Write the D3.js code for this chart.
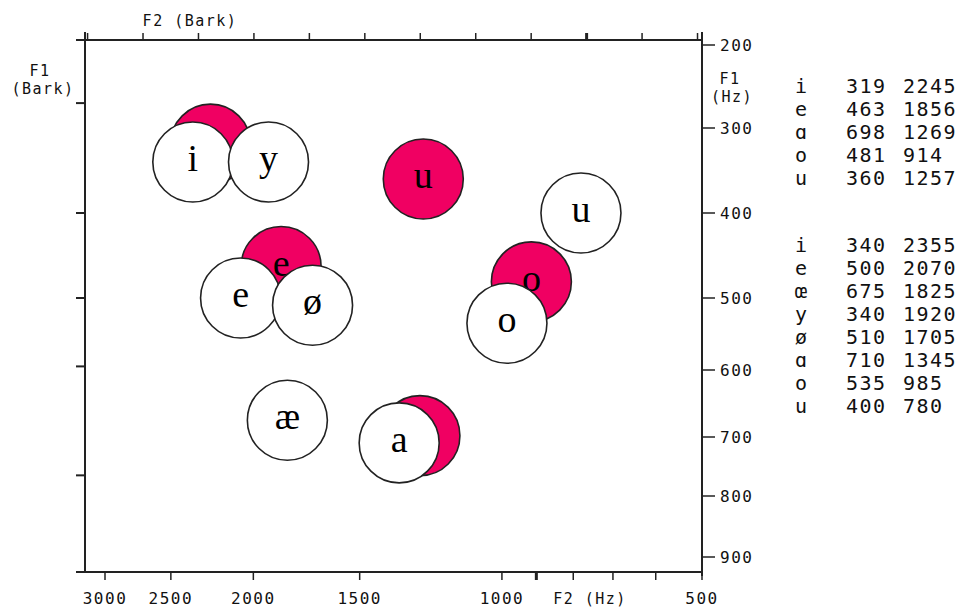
<!DOCTYPE html>
<html>
<head>
<meta charset="utf-8">
<title>F1 / F2 vowel chart</title>
<script src="https://d3js.org/d3.v7.min.js"></script>
<style>
  body { margin: 0; background: #fff; }
  text.mono { font-family: "DejaVu Sans Mono", monospace; fill: #111; }
  text.vowel { font-family: "Liberation Serif", "Times New Roman", serif; font-size: 38px; fill: #000; }
</style>
</head>
<body>
<div id="chart"></div>
<script>
// first set (red circles)
var vowelsA = ["i", "e", "ɑ", "o", "u"];
var plotA   = ["i", "e", "a", "o", "u"];
var f1A = [319, 463, 698, 481, 360];
var f2A = [2245, 1856, 1269, 914, 1257];

// second set (white circles)
var vowelsB = ["i", "e", "œ", "y", "ø", "ɑ", "o", "u"];
var plotB   = ["i", "e", "æ", "y", "ø", "a", "o", "u"];
var f1B = [340, 500, 675, 340, 510, 710, 535, 400];
var f2B = [2355, 2070, 1825, 1920, 1705, 1345, 985, 780];

// axis ticks
var f1Ticks = [200, 300, 400, 500, 600, 700, 800, 900];
var f2Ticks = [3000, 2500, 2000, 1500, 1000, 900, 800, 700, 600, 500];
var f2TickLabels = ["3000", "2500", "2000", "1500", "1000", "", "", "", "", "500"];
var f2BarkTicks = [16, 15, 14, 13, 12, 11, 10, 9, 8, 7, 6, 5];
var f1BarkTicks = [270, 400, 500, 595, 765];   // left ticks, given in Hz

var width = 958, height = 609;
var red = "#f00062";
var ink = "#222";

// Traunmuller bark
function bark(f) { return 26.81 * f / (1960 + f) - 0.53; }

var pLeft = 85, pRight = 702, pTop = 40, pBottom = 572;

var xb = d3.scaleLinear().domain([bark(500), bark(3000)]).range([pRight, 105]);
function x(f) { return xb(bark(f)); }

// F1 axis of the figure is drawn unevenly, follow the printed ticks
var y = d3.scaleLinear()
    .domain(f1Ticks)
    .range([45, 128, 213, 298, 370, 437, 496, 557]);

var svg = d3.select("#chart").append("svg")
    .attr("width", width)
    .attr("height", height)
    .style("background", "#fff");

// frame
var frame = svg.append("g").attr("stroke", ink).attr("stroke-width", 2).attr("fill", "none");
frame.append("line").attr("x1", 76).attr("x2", pRight).attr("y1", pTop).attr("y2", pTop);
frame.append("line").attr("x1", 76).attr("x2", pRight).attr("y1", pBottom).attr("y2", pBottom);
frame.append("line").attr("x1", pLeft).attr("x2", pLeft).attr("y1", 32).attr("y2", pBottom);
frame.append("line").attr("x1", pRight).attr("x2", pRight).attr("y1", 32).attr("y2", pBottom + 4);

// top ticks (bark)
frame.selectAll(".tt").data(f2BarkTicks).enter().append("line")
    .attr("x1", function(d) { return xb(d); })
    .attr("x2", function(d) { return xb(d); })
    .attr("y1", pTop - 7).attr("y2", pTop)
    .attr("stroke-width", function(d) { return d === 7 ? 3 : 1.5; });

// bottom ticks (Hz)
frame.selectAll(".bt").data(f2Ticks).enter().append("line")
    .attr("x1", function(d) { return x(d); })
    .attr("x2", function(d) { return x(d); })
    .attr("y1", pBottom).attr("y2", pBottom + 8)
    .attr("stroke-width", function(d) { return d === 900 ? 3 : 1.5; });

// right ticks (Hz)
frame.selectAll(".rt").data(f1Ticks).enter().append("line")
    .attr("x1", pRight).attr("x2", pRight + 13)
    .attr("y1", function(d) { return y(d); })
    .attr("y2", function(d) { return y(d); })
    .attr("stroke-width", 1.5);

// left ticks
frame.selectAll(".lt").data(f1BarkTicks).enter().append("line")
    .attr("x1", 76).attr("x2", pLeft)
    .attr("y1", function(d) { return y(d); })
    .attr("y2", function(d) { return y(d); })
    .attr("stroke-width", 2);

// tick labels
svg.selectAll(".bl").data(f2Ticks).enter().append("text")
    .attr("class", "mono")
    .attr("x", function(d) { return x(d); })
    .attr("y", 604)
    .attr("text-anchor", "middle")
    .style("font-size", "16px")
    .style("letter-spacing", "1.5px")
    .text(function(d, i) { return f2TickLabels[i]; });

svg.selectAll(".rl").data(f1Ticks).enter().append("text")
    .attr("class", "mono")
    .attr("x", 720)
    .attr("y", function(d) { return y(d); })
    .attr("dy", "0.36em")
    .style("font-size", "16px")
    .style("letter-spacing", "1.5px")
    .text(function(d) { return d; });

// axis titles
function title(tx, ty, s) {
    svg.append("text").attr("class", "mono")
        .attr("x", tx).attr("y", ty)
        .attr("text-anchor", "middle")
        .style("font-size", "15px")
        .style("letter-spacing", "1.5px")
        .text(s);
}
title(190, 26, "F2 (Bark)");
title(40, 76, "F1");
title(43, 94, "(Bark)");
title(730, 84, "F1");
title(732, 102, "(Hz)");
title(590, 604, "F2 (Hz)");

// circles
var r = 40;
function drawSet(labels, f1, f2, fill) {
    var g = svg.append("g");
    var pts = labels.map(function(l, i) { return { label: l, f1: f1[i], f2: f2[i] }; });
    g.selectAll("circle").data(pts).enter().append("circle")
        .attr("cx", function(d) { return x(d.f2); })
        .attr("cy", function(d) { return y(d.f1); })
        .attr("r", r)
        .attr("fill", fill)
        .attr("stroke", ink)
        .attr("stroke-width", 1.6);
    g.selectAll("text").data(pts).enter().append("text")
        .attr("class", "vowel")
        .attr("x", function(d) { return x(d.f2); })
        .attr("y", function(d) { return y(d.f1); })
        .attr("dy", "0.24em")
        .attr("text-anchor", "middle")
        .text(function(d) { return d.label; });
}
drawSet(plotA, f1A, f2A, red);
drawSet(plotB, f1B, f2B, "#fff");

// value tables
function drawTable(sym, f1, f2, y0, step) {
    var g = svg.append("g").attr("class", "table");
    sym.forEach(function(s, i) {
        var ty = y0 + i * step;
        g.append("text").attr("class", "mono").attr("x", 801).attr("y", ty)
            .attr("dy", "0.36em").attr("text-anchor", "middle")
            .style("font-size", "20px").text(s);
        g.append("text").attr("class", "mono").attr("x", 846).attr("y", ty)
            .attr("dy", "0.36em")
            .style("font-size", "20px").style("letter-spacing", "1.5px").text(f1[i]);
        g.append("text").attr("class", "mono").attr("x", 903).attr("y", ty)
            .attr("dy", "0.36em")
            .style("font-size", "20px").style("letter-spacing", "1.5px").text(f2[i]);
    });
}
drawTable(vowelsA, f1A, f2A, 86, 23);
drawTable(vowelsB, f1B, f2B, 245, 22.9);
</script>
</body>
</html>
